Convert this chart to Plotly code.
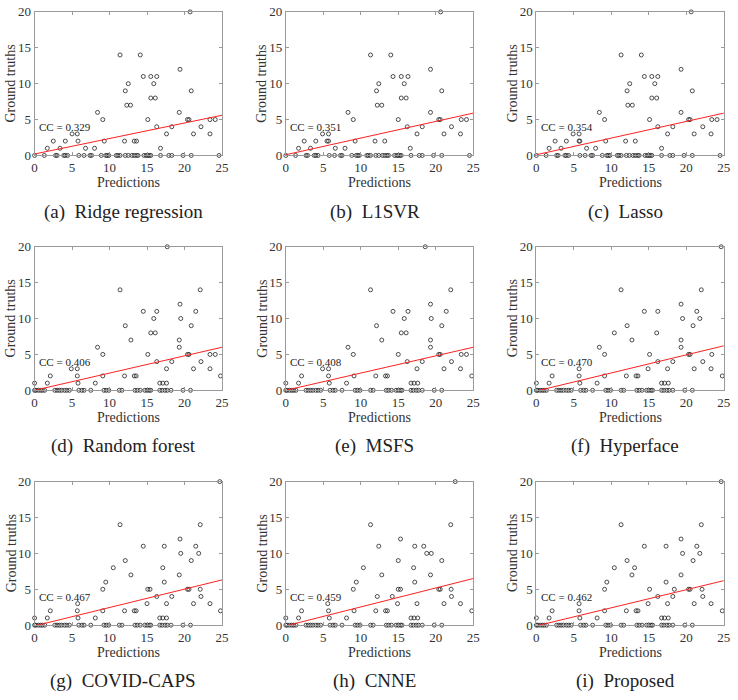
import plotly.graph_objects as go

# ---------------- data ----------------
titles = ["(a)  Ridge regression", "(b)  L1SVR", "(c)  Lasso",
          "(d)  Random forest", "(e)  MSFS", "(f)  Hyperface",
          "(g)  COVID-CAPS", "(h)  CNNE", "(i)  Proposed"]
cc_labels = ["CC = 0.329", "CC = 0.351", "CC = 0.354",
             "CC = 0.406", "CC = 0.408", "CC = 0.470",
             "CC = 0.467", "CC = 0.459", "CC = 0.462"]
# fitted red line: value at prediction 0 and at prediction 25
line_start = [0.2, 0.1, 0.1, 0.0, 0.0, -0.1, -0.1, -0.1, -0.1]
line_end = [5.6, 5.9, 5.9, 6.0, 6.0, 6.2, 6.3, 6.5, 6.2]

pred_a = [20.75, 11.4, 14.1, 19.4, 14.5, 15.5, 16.3, 12.5, 15.9, 12.1, 20.9, 15.5, 16.1, 12.3, 12.8,
          8.4, 19.3, 9.1, 15.1, 20.4, 20.6, 23.4, 24.1, 16.3, 18.3, 22.2, 5.0, 5.7, 17.6, 21.2, 23.4,
          2.5, 4.1, 5.8, 9.3, 12.0, 13.3, 13.6, 1.7, 3.4, 6.8, 8.0, 16.8,
          0.0, 1.3, 2.8, 3.0, 3.9, 4.1, 4.4, 5.9, 6.6, 7.4, 7.6, 8.9, 9.5, 9.7, 9.9, 10.9, 11.1, 11.4,
          12.1, 12.5, 13.0, 13.3, 13.6, 13.8, 14.6, 14.9, 15.1, 15.3, 15.5, 16.8, 17.9, 18.3, 19.8,
          20.9, 24.6]
gt_a = [20, 14, 14, 12, 11, 11, 11, 10, 10, 9, 9, 8, 8, 7, 7,
        6, 6, 5, 5, 5, 5, 5, 5, 4, 4, 4, 3, 3, 3, 3, 3,
        2, 2, 2, 2, 2, 2, 2, 1, 1, 1, 1, 1,
        0, 0, 0, 0, 0, 0, 0, 0, 0, 0, 0, 0, 0, 0, 0, 0, 0, 0,
        0, 0, 0, 0, 0, 0, 0, 0, 0, 0, 0, 0, 0, 0, 0,
        0, 0]

pred_b = [20.65, 11.3, 14.0, 19.3, 14.3, 15.4, 16.3, 12.4, 15.8, 12.1, 20.8, 15.4, 16.05, 12.2, 12.8,
          8.3, 19.3, 9.0, 15.0, 20.4, 20.6, 23.4, 24.1, 16.2, 18.2, 22.1, 4.9, 5.7, 17.5, 21.1, 23.3,
          2.45, 4.0, 5.5, 5.7, 9.25, 11.9, 13.2, 1.7, 3.3, 6.6, 7.9, 16.6,
          0.0, 1.3, 2.7, 2.9, 3.8, 4.0, 4.3, 5.8, 6.5, 7.3, 7.5, 8.8, 9.4, 9.6, 9.8, 10.8, 11.0, 11.3,
          12.0, 12.4, 12.9, 13.2, 13.5, 13.7, 14.5, 14.8, 15.0, 15.2, 15.4, 16.7, 17.8, 18.2, 19.7,
          20.8, 24.5]
gt_b = gt_a

pred_c = [20.65, 11.3, 14.0, 19.3, 14.4, 15.4, 16.2, 12.45, 15.8, 12.1, 20.8, 15.4, 16.05, 12.2, 12.8,
          8.4, 19.3, 9.1, 15.1, 20.3, 20.5, 23.4, 24.1, 16.2, 18.2, 22.2, 4.9, 5.7, 17.5, 21.05, 23.3,
          2.5, 4.0, 5.7, 5.8, 9.25, 11.9, 13.2, 1.7, 3.3, 6.7, 7.9, 16.7,
          0.0, 1.3, 2.7, 2.9, 3.8, 4.0, 4.3, 5.8, 6.5, 7.3, 7.5, 8.8, 9.4, 9.6, 9.8, 10.8, 11.0, 11.3,
          12.0, 12.4, 12.9, 13.2, 13.5, 13.7, 14.5, 14.8, 15.0, 15.2, 15.4, 16.7, 17.8, 18.2, 19.7,
          20.8, 24.5]
gt_c = gt_a

low_pred_f = [2.1, 5.7, 9.1, 12.0, 13.3, 13.55, 24.8, 0.0, 1.7, 5.8, 8.1, 16.7, 17.1, 17.6,
              0.0, 0.17, 0.5, 0.8, 1.05, 1.35, 2.7, 3.0, 3.3, 3.6, 4.0, 4.3, 4.65, 5.9, 6.3, 6.6, 7.5,
              9.25, 9.55, 9.9, 11.3, 11.65, 13.4, 13.7, 14.1, 14.7, 15.0, 15.3, 15.5, 16.7, 17.0,
              17.4, 17.7, 18.2, 19.8, 20.8]
low_gt_f = [2, 2, 2, 2, 2, 2, 2, 1, 1, 1, 1, 1, 1, 1,
            0, 0, 0, 0, 0, 0, 0, 0, 0, 0, 0, 0, 0, 0, 0, 0, 0,
            0, 0, 0, 0, 0, 0, 0, 0, 0, 0, 0, 0, 0, 0,
            0, 0, 0, 0, 0]

pred_d = [17.7, 11.4, 22.1, 14.5, 16.3, 21.5, 19.4, 15.9, 19.5, 12.1, 20.9, 15.5, 16.1, 12.85, 19.3,
          8.4, 19.3, 9.1, 15.1, 20.4, 20.6, 23.4, 24.1, 16.3, 18.3, 22.2, 4.9, 5.7, 17.6, 21.2, 23.4] + low_pred_f
gt_d = [20, 14, 14, 11, 11, 11, 12, 10, 10, 9, 9, 8, 8, 7, 7,
        6, 6, 5, 5, 5, 5, 5, 5, 4, 4, 4, 3, 3, 3, 3, 3] + low_gt_f

pred_e = [18.6, 11.3, 22.0, 14.3, 16.3, 21.4, 19.3, 15.8, 19.4, 12.1, 20.8, 15.4, 16.05, 12.8, 19.3,
          8.3, 19.3, 9.0, 15.0, 20.4, 20.6, 23.4, 24.1, 16.2, 18.2, 22.1, 4.9, 5.7, 17.5, 21.1, 23.3] + low_pred_f
gt_e = gt_d

pred_f = [24.65, 11.3, 22.0, 14.4, 16.2, 21.4, 19.3, 19.5, 21.8, 12.1, 20.9, 10.4, 16.05, 12.75, 19.3,
          8.4, 19.3, 9.1, 15.1, 20.3, 20.5, 23.4, 16.2, 18.2, 22.2, 5.7, 14.9, 17.5, 21.05, 23.3] + low_pred_f
gt_f = [20, 14, 14, 11, 11, 11, 12, 10, 10, 9, 9, 8, 8, 7, 7,
        6, 6, 5, 5, 5, 5, 5, 4, 4, 4, 3, 3, 3, 3, 3] + low_gt_f

pred_g = [24.7, 11.4, 22.1, 14.5, 17.3, 21.5, 19.4, 19.5, 21.9, 12.1, 20.9, 10.5, 17.1, 12.85, 19.3,
          9.5, 17.3, 9.1, 15.1, 15.4, 20.4, 20.6, 22.1, 16.3, 18.3, 22.2, 5.75, 15.0, 17.6, 21.2, 23.4] + low_pred_f
gt_g = [20, 14, 14, 11, 11, 11, 12, 10, 10, 9, 9, 8, 8, 7, 7,
        6, 6, 5, 5, 5, 5, 5, 5, 4, 4, 4, 3, 3, 3, 3, 3] + low_gt_f

pred_h = [22.6, 11.3, 22.0, 15.3, 12.4, 17.2, 18.4, 18.8, 19.4, 15.0, 20.8, 10.35, 17.05, 12.8, 19.3,
          9.4, 17.2, 9.0, 15.0, 15.3, 20.4, 20.6, 22.05, 12.2, 14.2, 22.1, 5.6, 14.9, 17.5, 21.1, 23.3] + low_pred_f
gt_h = [20, 14, 14, 12, 11, 11, 11, 10, 10, 9, 9, 8, 8, 7, 7,
        6, 6, 5, 5, 5, 5, 5, 5, 4, 4, 4, 3, 3, 3, 3, 3] + low_gt_f

pred_i = [24.65, 11.3, 22.0, 14.4, 17.3, 21.4, 19.3, 19.5, 21.8, 12.1, 20.9, 10.4, 13.1, 12.75, 19.3,
          9.4, 17.3, 9.1, 15.1, 18.4, 20.3, 20.5, 22.1, 16.2, 18.2, 22.2, 5.7, 14.9, 17.5, 21.05, 23.3] + low_pred_f
gt_i = gt_g

preds = [pred_a, pred_b, pred_c, pred_d, pred_e, pred_f, pred_g, pred_h, pred_i]
gts = [gt_a, gt_b, gt_c, gt_d, gt_e, gt_f, gt_g, gt_h, gt_i]

x_ticks = [0, 5, 10, 15, 20, 25]
y_ticks = [0, 5, 10, 15, 20]

# ---------------- layout geometry (pixels) ----------------
W, H = 738, 700
col_px = [(32, 222), (286.7, 476.7), (540.7, 730.7)]
row_px = [(5, 151.7), (245, 391.7), (485, 631.7)]

FONT = "Liberation Serif, Times New Roman, serif"
fig = go.Figure()
annotations = []

for k in range(9):
    r, c = divmod(k, 3)
    x0, x1 = col_px[c]
    y0, y1 = row_px[r]
    xa = "x" if k == 0 else f"x{k+1}"
    ya = "y" if k == 0 else f"y{k+1}"
    axkey_x = "xaxis" if k == 0 else f"xaxis{k+1}"
    axkey_y = "yaxis" if k == 0 else f"yaxis{k+1}"

    fig.add_trace(go.Scatter(
        x=preds[k], y=gts[k], mode="markers", xaxis=xa, yaxis=ya,
        marker=dict(symbol="circle-open", size=4, color="#222", line=dict(width=0.8, color="#222")),
        cliponaxis=False, showlegend=False, hoverinfo="skip"))
    fig.add_trace(go.Scatter(
        x=[0, 25], y=[line_start[k], line_end[k]], mode="lines", xaxis=xa, yaxis=ya,
        line=dict(color="#ff2020", width=1), showlegend=False, hoverinfo="skip"))

    common = dict(showgrid=False, zeroline=False, showline=True, linecolor="#9a9a9a", linewidth=1,
                  mirror="ticks", ticks="inside", ticklen=3, tickcolor="#9a9a9a",
                  tickfont=dict(family=FONT, size=13, color="#333"))
    fig.layout[axkey_x] = dict(domain=[x0 / W, x1 / W], range=[0, 25], tickvals=x_ticks,
                               anchor=ya, **common)
    fig.layout[axkey_y] = dict(domain=[1 - y1 / H, 1 - y0 / H], range=[0, 20], tickvals=y_ticks,
                               anchor=xa, **common)

    xc = (x0 + x1) / 2
    annotations.append(dict(text="Predictions", xref="paper", yref="paper",
                            x=xc / W, y=1 - (y1 + 27.6) / H, xanchor="center", yanchor="middle",
                            showarrow=False, font=dict(family=FONT, size=14, color="#333")))
    annotations.append(dict(text="Ground truths", xref="paper", yref="paper", textangle=-90,
                            x=(x0 - 24) / W, y=1 - ((y0 + y1) / 2) / H, xanchor="center", yanchor="middle",
                            showarrow=False, font=dict(family=FONT, size=14, color="#333")))
    annotations.append(dict(text=titles[k], xref="paper", yref="paper",
                            x=(xc - 5) / W, y=1 - (y1 + 57.3) / H, xanchor="center", yanchor="middle",
                            showarrow=False, font=dict(family=FONT, size=19, color="#222")))
    annotations.append(dict(text=cc_labels[k], xref=xa, yref=ya, x=0.35, y=3.9,
                            xanchor="left", yanchor="middle", showarrow=False,
                            font=dict(family=FONT, size=11, color="#222")))

fig.update_layout(width=W, height=H, margin=dict(l=0, r=0, t=0, b=0),
                  paper_bgcolor="white", plot_bgcolor="white", annotations=annotations)
fig.write_html("out.html", config={"displayModeBar": False, "staticPlot": True},
               post_script="document.body.style.margin='0';document.body.style.overflow='hidden';")
